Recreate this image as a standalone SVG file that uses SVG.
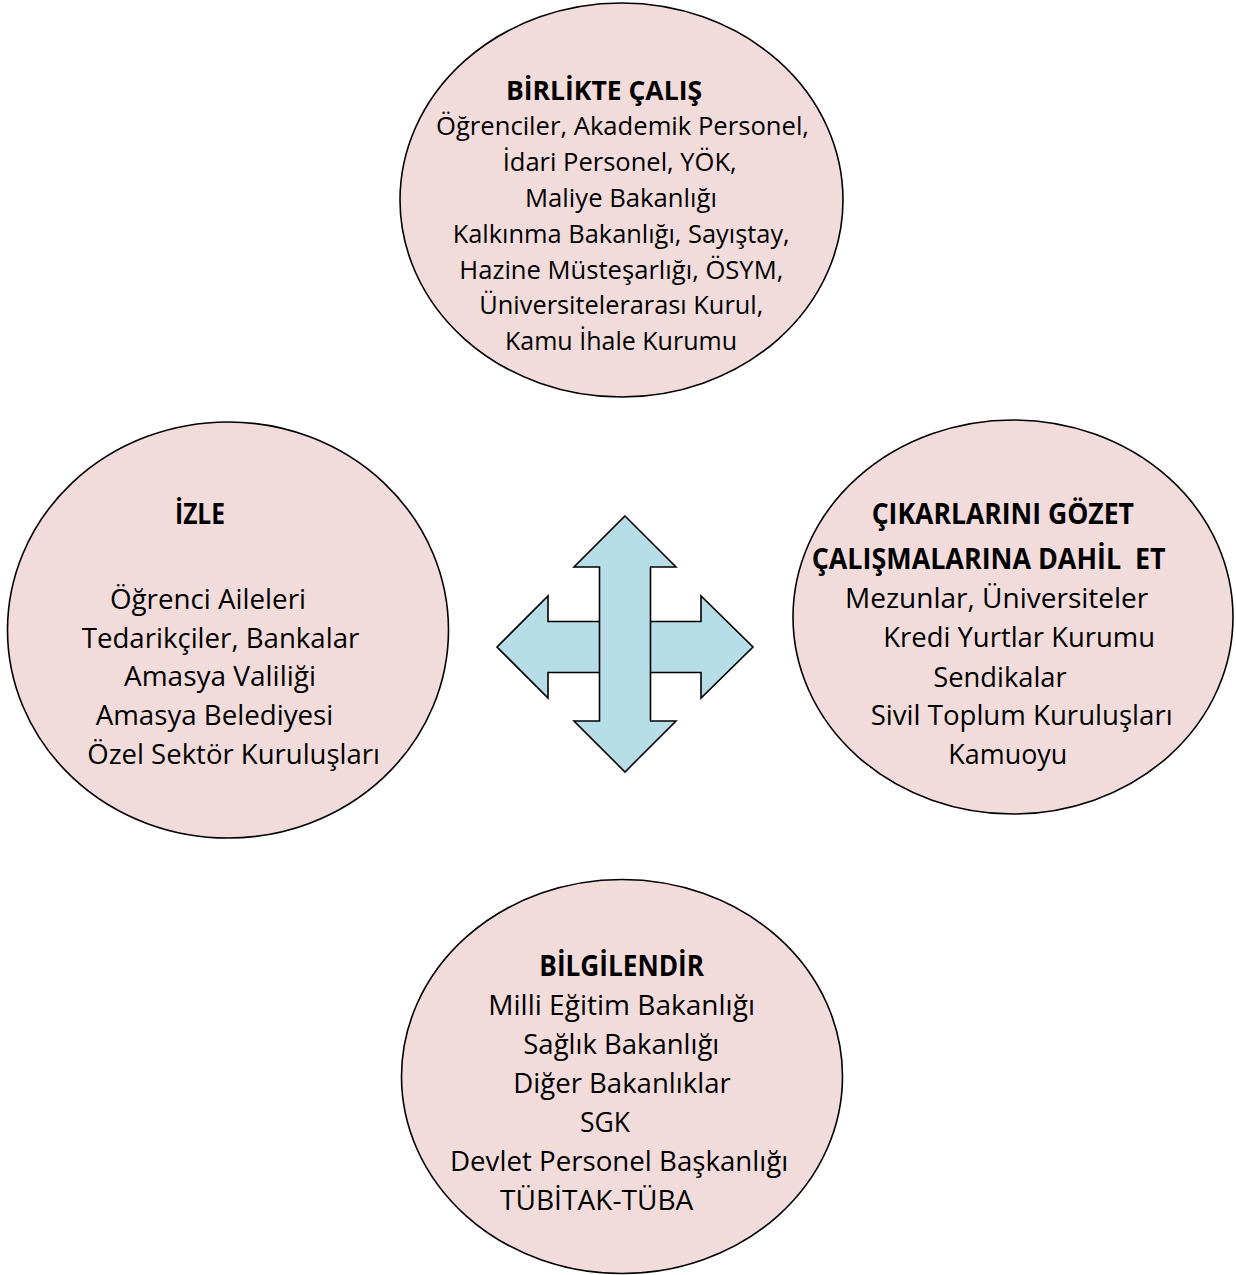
<svg xmlns="http://www.w3.org/2000/svg" width="1236" height="1275" viewBox="0 0 1236 1275">
  <style>
    .node ellipse { fill: #F2DCDB; stroke: #000; stroke-width: 1.6; }
    .t { font-family: "Open Sans", "Noto Sans", "Liberation Sans", sans-serif; fill: #000; }
    .s { font-size: 26px; }
    .m { font-size: 28px; }
    .b { font-weight: bold; }
    .arrow { fill: #B7DEE8; stroke: #000; stroke-width: 1.6; stroke-linejoin: miter; }
  </style>
  <rect width="1236" height="1275" fill="#fff"/>

  <g id="node-birlikte-calis" class="node">
    <ellipse cx="621.5" cy="200" rx="221.5" ry="197"/>
    <text class="t s b" x="506" y="99.5" textLength="196" lengthAdjust="spacingAndGlyphs">BİRLİKTE ÇALIŞ</text>
    <text class="t s" x="436" y="135.3" textLength="373" lengthAdjust="spacingAndGlyphs">Öğrenciler, Akademik Personel,</text>
    <text class="t s" x="502.7" y="171.1" textLength="234" lengthAdjust="spacingAndGlyphs">İdari Personel, YÖK,</text>
    <text class="t s" x="525" y="206.9" textLength="192" lengthAdjust="spacingAndGlyphs">Maliye Bakanlığı</text>
    <text class="t s" x="452.7" y="242.7" textLength="337" lengthAdjust="spacingAndGlyphs">Kalkınma Bakanlığı, Sayıştay,</text>
    <text class="t s" x="459.3" y="278.5" textLength="324" lengthAdjust="spacingAndGlyphs">Hazine Müsteşarlığı, ÖSYM,</text>
    <text class="t s" x="479.3" y="314.3" textLength="284" lengthAdjust="spacingAndGlyphs">Üniversitelerarası Kurul,</text>
    <text class="t s" x="505" y="350.1" textLength="232" lengthAdjust="spacingAndGlyphs">Kamu İhale Kurumu</text>
  </g>

  <g id="node-izle" class="node">
    <ellipse cx="228" cy="630" rx="220.5" ry="208"/>
    <text class="t m b" x="175" y="524" textLength="50" lengthAdjust="spacingAndGlyphs">İZLE</text>
    <text class="t m" x="110" y="609.3" textLength="196" lengthAdjust="spacingAndGlyphs">Öğrenci Aileleri</text>
    <text class="t m" x="81.7" y="647.7" textLength="277.6" lengthAdjust="spacingAndGlyphs">Tedarikçiler, Bankalar</text>
    <text class="t m" x="124" y="686" textLength="192" lengthAdjust="spacingAndGlyphs">Amasya Valiliği</text>
    <text class="t m" x="95.7" y="725" textLength="237.6" lengthAdjust="spacingAndGlyphs">Amasya Belediyesi</text>
    <text class="t m" x="87.3" y="764" textLength="292.7" lengthAdjust="spacingAndGlyphs">Özel Sektör Kuruluşları</text>
  </g>

  <g id="node-cikarlarini-gozet" class="node">
    <ellipse cx="1013" cy="617" rx="220" ry="197"/>
    <text class="t m b" x="871.7" y="524" textLength="262.3" lengthAdjust="spacingAndGlyphs">ÇIKARLARINI GÖZET</text>
    <text class="t m b" x="811.7" y="569.3" textLength="354" lengthAdjust="spacingAndGlyphs" xml:space="preserve">ÇALIŞMALARINA DAHİL  ET</text>
    <text class="t m" x="845" y="608.3" textLength="303.3" lengthAdjust="spacingAndGlyphs">Mezunlar, Üniversiteler</text>
    <text class="t m" x="883.3" y="647.3" textLength="271.7" lengthAdjust="spacingAndGlyphs">Kredi Yurtlar Kurumu</text>
    <text class="t m" x="933.3" y="686.5" textLength="133.4" lengthAdjust="spacingAndGlyphs">Sendikalar</text>
    <text class="t m" x="870.7" y="725" textLength="302" lengthAdjust="spacingAndGlyphs">Sivil Toplum Kuruluşları</text>
    <text class="t m" x="948.3" y="764" textLength="119" lengthAdjust="spacingAndGlyphs">Kamuoyu</text>
  </g>

  <g id="node-bilgilendir" class="node">
    <ellipse cx="622" cy="1076.5" rx="220.5" ry="197"/>
    <text class="t m b" x="539.3" y="976" textLength="164.7" lengthAdjust="spacingAndGlyphs">BİLGİLENDİR</text>
    <text class="t m" x="488.3" y="1015" textLength="266.7" lengthAdjust="spacingAndGlyphs">Milli Eğitim Bakanlığı</text>
    <text class="t m" x="523.3" y="1054" textLength="196" lengthAdjust="spacingAndGlyphs">Sağlık Bakanlığı</text>
    <text class="t m" x="513.3" y="1092.7" textLength="217.4" lengthAdjust="spacingAndGlyphs">Diğer Bakanlıklar</text>
    <text class="t m" x="580" y="1131.7" textLength="50" lengthAdjust="spacingAndGlyphs">SGK</text>
    <text class="t m" x="450" y="1170.7" textLength="338.3" lengthAdjust="spacingAndGlyphs">Devlet Personel Başkanlığı</text>
    <text class="t m" x="500" y="1210" textLength="193.3" lengthAdjust="spacingAndGlyphs">TÜBİTAK-TÜBA</text>
  </g>

  <g id="connectors">
    <path class="arrow" d="M497,647 L548,596 L548,621.5 L701,621.5 L701,596 L753,647 L701,698 L701,672.5 L548,672.5 L548,698 Z"/>
    <path class="arrow" d="M625,516 L676,567 L650.5,567 L650.5,721 L676,721 L625,772 L574,721 L599.5,721 L599.5,567 L574,567 Z"/>
  </g>
</svg>
